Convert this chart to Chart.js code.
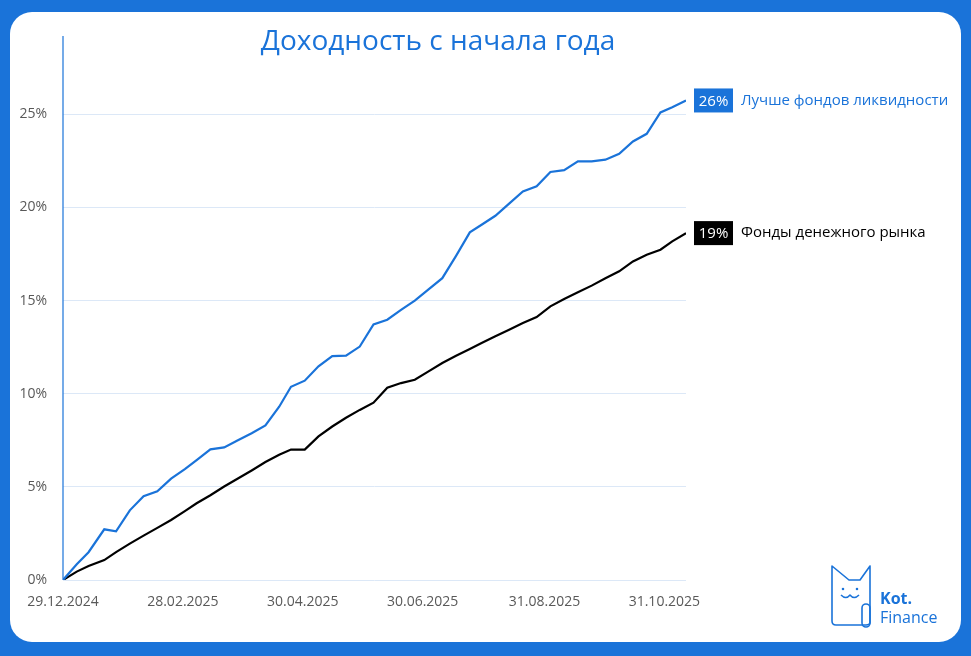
<!DOCTYPE html>
<html><head><meta charset="utf-8">
<script src="https://cdn.jsdelivr.net/npm/chart.js@4"></script>
<style>html,body{margin:0;padding:0;background:#1a73d9;}canvas{display:block;}</style>
</head><body>
<canvas id="c" width="971" height="656"></canvas>
<script>
const days = [0,7,13,21,27,34,41,48,55,62,68,75,82,89,96,103,110,116,123,130,137,144,151,158,165,172,179,186,193,200,207,213,220,227,234,241,248,255,262,269,276,283,290,297,304,310,317];
const bestFunds = [0,0.85,1.49,2.72,2.61,3.74,4.5,4.76,5.44,5.95,6.44,7.01,7.12,7.5,7.88,8.3,9.3,10.37,10.7,11.47,12.02,12.04,12.53,13.72,13.97,14.5,15.0,15.6,16.2,17.4,18.66,19.07,19.55,20.2,20.86,21.13,21.9,22.0,22.47,22.47,22.56,22.88,23.54,23.95,25.1,25.38,25.74];
const mmFunds = [0,0.45,0.75,1.07,1.5,1.95,2.38,2.8,3.22,3.7,4.12,4.55,5.02,5.45,5.88,6.33,6.72,7.0,7.0,7.71,8.24,8.71,9.13,9.52,10.32,10.57,10.75,11.2,11.65,12.04,12.4,12.72,13.08,13.43,13.79,14.11,14.69,15.08,15.44,15.8,16.2,16.57,17.1,17.46,17.73,18.18,18.62];
const tickDays = [0,61,122,183,245,306];
const tickLabels = ['29.12.2024','28.02.2025','30.04.2025','30.06.2025','31.08.2025','31.10.2025'];
const seriesNames = ['Лучше фондов ликвидности','Фонды денежного рынка'];
const endLabels = ['26%','19%'];
const title = 'Доходность с начала года';
const BLUE = '#1a73d9';

const bg = {id:'bg', beforeDraw(ch){const c=ch.ctx;c.save();c.fillStyle=BLUE;c.fillRect(0,0,971,656);
  c.fillStyle='#fff';c.beginPath();c.roundRect(10,12,951,630,22);c.fill();c.restore();}};
const deco = {id:'deco', afterDraw(ch){
  const c=ch.ctx, xs=ch.scales.x, ys=ch.scales.y, a=ch.chartArea;
  c.save();
  c.strokeStyle=BLUE;c.lineWidth=1.2;c.beginPath();c.moveTo(a.left,36);c.lineTo(a.left,a.bottom);c.stroke();
  c.fillStyle=BLUE;c.font='28px "Open Sans"';c.textAlign='center';c.textBaseline='middle';c.fillText(title,438,42);
  const ds=[[bestFunds,BLUE,BLUE],[mmFunds,'#000','#000']];
  ds.forEach((d,i)=>{
    const v=d[0][d[0].length-1], y=ys.getPixelForValue(v), x=xs.getPixelForValue(days[days.length-1]);
    c.fillStyle=d[1];c.fillRect(x+8,y-12,39,24);
    c.fillStyle='#fff';c.font='15px "Open Sans"';c.textAlign='center';c.fillText(endLabels[i],x+27.5,y+1);
    c.fillStyle=d[2];c.textAlign='left';c.font='15px "Open Sans"';c.fillText(seriesNames[i],x+55,y);
  });
  c.strokeStyle=BLUE;c.lineWidth=1.6;c.lineJoin='round';
  c.beginPath();c.moveTo(832,566);c.lineTo(849,580);c.lineTo(860,580);c.lineTo(870,566);c.lineTo(870,622);
  c.quadraticCurveTo(870,625,866,625);c.lineTo(836,625);c.quadraticCurveTo(832,625,832,621);c.closePath();c.stroke();
  c.beginPath();c.moveTo(841,595);c.quadraticCurveTo(846,600,850,595);c.quadraticCurveTo(854,600,859,595);c.stroke();
  c.beginPath();c.roundRect(862,604,8,23,4);c.stroke();
  c.fillStyle=BLUE;c.beginPath();c.arc(843,589,1.3,0,7);c.arc(857,589,1.3,0,7);c.fill();
  c.textAlign='left';c.font='bold 16px "Open Sans"';c.fillText('Kot.',880,599);
  c.font='16px "Open Sans"';c.fillText('Finance',880,618);
  c.restore();
}};
new Chart(document.getElementById('c'),{
  type:'line',
  data:{datasets:[
    {data:days.map((d,i)=>({x:d,y:bestFunds[i]})),borderColor:BLUE,borderWidth:2.2,pointRadius:0,tension:0},
    {data:days.map((d,i)=>({x:d,y:mmFunds[i]})),borderColor:'#000',borderWidth:2.2,pointRadius:0,tension:0}
  ]},
  options:{responsive:false,animation:false,
    layout:{padding:{left:0,right:285,top:36,bottom:38}},
    plugins:{legend:{display:false},tooltip:{enabled:false}},
    scales:{
      x:{type:'linear',min:0,max:317,grid:{display:false},border:{display:false},
        afterBuildTicks(s){s.ticks=tickDays.map(v=>({value:v}));},
        afterFit(s){s.height=38;},
        ticks:{color:'#595959',font:{size:14,family:'"Open Sans"'},maxRotation:0,autoSkip:false,padding:6,
          callback:(v)=>tickLabels[tickDays.indexOf(v)]}},
      y:{min:0,max:29.2,grid:{color:'#dce8f7',lineWidth:1,drawTicks:false},border:{display:false},
        afterBuildTicks(s){s.ticks=[0,5,10,15,20,25].map(v=>({value:v}));},
        afterFit(s){s.width=63;},
        ticks:{color:'#595959',font:{size:14,family:'"Open Sans"'},padding:16,callback:v=>v+'%'}}
    }},
  plugins:[bg,deco]
});
</script>
</body></html>
